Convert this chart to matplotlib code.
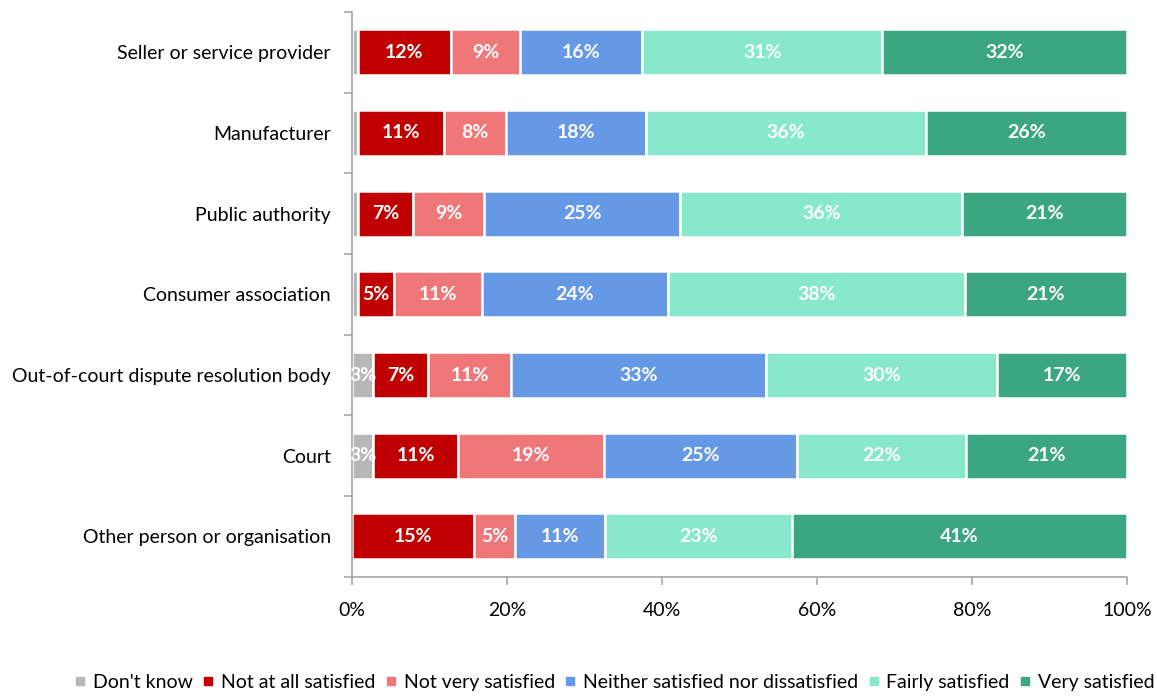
import numpy as np
import matplotlib.pyplot as plt
from matplotlib.lines import Line2D

plt.rcParams['font.family'] = ['Lato', 'DejaVu Sans']

categories = ['Seller or service provider', 'Manufacturer', 'Public authority',
              'Consumer association', 'Out-of-court dispute resolution body',
              'Court', 'Other person or organisation']
series = ["Don't know", 'Not at all satisfied', 'Not very satisfied',
          'Neither satisfied nor dissatisfied', 'Fairly satisfied', 'Very satisfied']
colors = ['#B7B7B7', '#C00000', '#F07777', '#6699E5', '#88E8CC', '#3CA582']

dont_know = [0.8, 0.8, 0.8, 0.8, 2.8, 2.8, 0.0]
not_at_all = [12.0, 11.1, 7.1, 4.7, 7.0, 10.9, 15.0]
not_very = [8.9, 8.0, 9.1, 11.3, 10.8, 18.8, 5.0]
neither = [15.8, 18.0, 25.3, 23.9, 32.8, 24.9, 11.0]
fairly = [30.9, 36.2, 36.3, 38.2, 29.8, 21.8, 23.0]
very = [31.6, 25.9, 21.2, 20.9, 16.8, 20.8, 41.0]

data = np.array([dont_know, not_at_all, not_very, neither, fairly, very])
shares = data / data.sum(axis=0) * 100  # 100% stacked

fig, ax = plt.subplots(figsize=(11.57, 7), dpi=100)
fig.subplots_adjust(left=0.304, right=0.974, top=0.983, bottom=0.176)

y = np.arange(len(categories))
left = np.zeros(len(categories))
for i, name in enumerate(series):
    ax.barh(y, shares[i], left=left, height=0.57, color=colors[i],
            edgecolor='white', linewidth=1.8, label=name)
    for j in range(len(categories)):
        if data[i, j] >= 2:
            ax.text(left[j] + shares[i, j] / 2, y[j], '%.0f%%' % data[i, j],
                    ha='center', va='center', color='white', fontsize=14,
                    fontweight='bold')
    left += shares[i]

ax.set_xlim(0, 100)
ax.set_ylim(len(categories) - 0.5, -0.5)
ax.set_xticks(np.arange(0, 101, 20))
ax.set_xticklabels(['%d%%' % v for v in range(0, 101, 20)], fontsize=14)
ax.set_yticks(np.arange(-0.5, len(categories), 1))
ax.set_yticklabels([])
ax.set_yticks(y, minor=True)
ax.set_yticklabels(categories, minor=True, fontsize=14)
ax.tick_params(axis='y', which='minor', length=0, pad=15)
ax.tick_params(axis='both', which='major', length=6, color='#A6A6A6', width=1.2)
ax.tick_params(axis='x', pad=12)
for s in ['top', 'right']:
    ax.spines[s].set_visible(False)
for s in ['left', 'bottom']:
    ax.spines[s].set_color('#A6A6A6')
    ax.spines[s].set_linewidth(1.2)

handles = [Line2D([], [], marker='s', linestyle='', markersize=6, color=c) for c in colors]
fig.legend(handles, series, loc='lower center', bbox_to_anchor=(0.531, -0.012), ncol=6,
           frameon=False, fontsize=14, handletextpad=0.35, columnspacing=0.5,
           handlelength=0.6)

fig.savefig('out.png', dpi=100)
